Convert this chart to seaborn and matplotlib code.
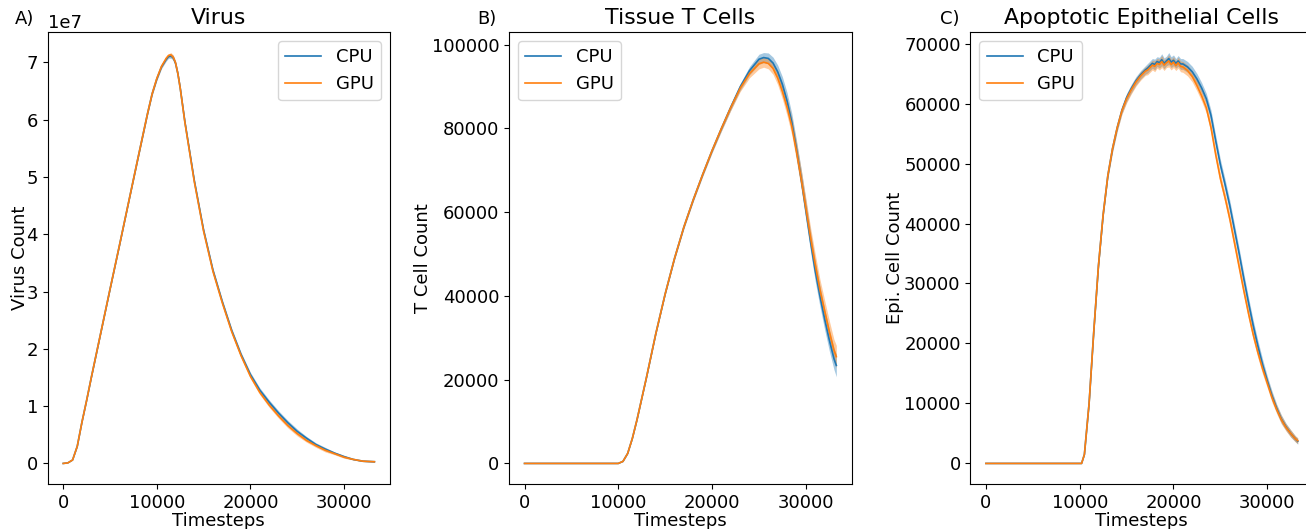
#!/usr/bin/env python
# CPU vs GPU comparison of the three model outputs

import matplotlib

matplotlib.use("Agg")
import matplotlib.pyplot as plt
import numpy as np
import pandas as pd
import seaborn as sns

# --- Virus (values in units of 1e7) ---
virus_t = [0, 500, 1000, 1500, 2000, 2500, 3000, 4000, 5000, 6000, 7000, 8000,
           9000, 9500, 10000, 10500, 11000, 11250, 11500, 11750, 12000, 12250,
           12500, 13000, 14000,
           15000, 16000, 17000, 18000, 19000, 20000, 21000, 22000, 23000, 24000,
           25000, 26000, 27000, 28000, 29000, 30000, 31000, 32000, 33250]
virus_gpu = [0, 0.01, 0.06, 0.3, 0.72, 1.1, 1.5, 2.27, 3.04, 3.8, 4.57, 5.34,
             6.1, 6.45, 6.72, 6.93, 7.07, 7.12, 7.13, 7.09, 6.99, 6.8,
             6.55, 5.95, 4.92,
             4.05, 3.35, 2.8, 2.3, 1.88, 1.52, 1.24, 1.02, 0.83, 0.66,
             0.52, 0.4, 0.31, 0.23, 0.17, 0.11, 0.07, 0.04, 0.03]
virus_cpu = [0, 0.01, 0.06, 0.3, 0.72, 1.1, 1.5, 2.27, 3.04, 3.8, 4.57, 5.34,
             6.1, 6.45, 6.71, 6.92, 7.05, 7.1, 7.11, 7.08, 6.98, 6.8,
             6.55, 5.96, 4.94,
             4.07, 3.37, 2.82, 2.32, 1.9, 1.55, 1.28, 1.07, 0.88, 0.71,
             0.56, 0.44, 0.33, 0.25, 0.18, 0.12, 0.07, 0.04, 0.03]
virus_band = [0, 0, 0, 0.01, 0.01, 0.01, 0.02, 0.02, 0.02, 0.02, 0.02, 0.03,
              0.03, 0.03, 0.03, 0.03, 0.03, 0.03, 0.04, 0.04, 0.04, 0.04,
              0.04, 0.04, 0.04,
              0.04, 0.04, 0.04, 0.04, 0.04, 0.04, 0.04, 0.04, 0.04, 0.04,
              0.04, 0.03, 0.03, 0.03, 0.02, 0.02, 0.01, 0.01, 0.01]

# --- Tissue T cells ---
tcell_t = [0, 5000, 10000, 10500, 11000, 11500, 12000, 12500, 13000, 14000,
           15000, 16000, 17000, 18000, 19000, 20000, 21000, 22000, 23000, 24000,
           25000, 25500, 26000, 26500, 27000, 27500, 28000, 28500, 29000, 29500,
           30000, 30500, 31000, 31500, 32000, 32500, 33000, 33250]
tcell_gpu = [0, 0, 0, 500, 2400, 6000, 10500, 15500, 20500, 31000,
             40500, 49000, 56500, 63000, 69000, 74700, 80000, 85000, 89600, 93100,
             95400, 95800, 95500, 94300, 92000, 88800, 85000, 80500, 74500, 68000,
             61000, 54000, 47500, 41500, 36500, 31500, 27000, 25500]
tcell_cpu = [0, 0, 0, 500, 2400, 6000, 10500, 15500, 20500, 31000,
             40500, 49000, 56500, 63000, 69000, 74700, 80000, 85100, 89900, 93800,
             96500, 96900, 96700, 95600, 93500, 90500, 86500, 81500, 75000, 68000,
             60500, 53000, 46000, 40000, 34500, 29500, 25000, 23400]
tcell_band = [0, 0, 0, 50, 100, 150, 200, 200, 250, 300,
              300, 350, 400, 400, 450, 500, 600, 700, 800, 1000,
              1200, 1200, 1300, 1400, 1600, 1800, 2000, 2100, 2200, 2300,
              2400, 2400, 2500, 2500, 2500, 2600, 2600, 2700]

# --- Apoptotic epithelial cells ---
epi_t = [0, 5000, 10000, 10200, 10500, 11000, 11500, 12000, 12500, 13000,
         13500, 14000, 14500, 15000, 15500, 16000, 16500, 17000, 17250, 17500,
         17750, 18000, 18250, 18500, 18750, 19000, 19250, 19500, 19750, 20000,
         20250, 20500, 20750, 21000, 21500, 22000, 22500, 23000,
         23500, 24000, 24500, 25000, 25500, 26000, 26500, 27000, 27500, 28000,
         28500, 29000, 29500, 30000, 30500, 31000, 31500, 32000, 32500, 33000,
         33250]
epi_gpu = [0, 0, 0, 0, 1500, 10000, 22000, 33000, 41500, 48000,
           52500, 56000, 58800, 60800, 62300, 63600, 64600, 65400, 65600, 66000,
           66400, 66200, 66700, 66500, 67000, 66400, 66800, 67100, 66500, 66900,
           66300, 66800, 66200, 66100, 65500, 64500, 63000, 61300,
           59300, 56000, 51500, 47500, 44300, 40800, 36800, 32800, 28800, 25000,
           21500, 18500, 15800, 13400, 11000, 9000, 7300, 6000, 5000, 4100,
           3800]
epi_cpu = [0, 0, 0, 0, 1500, 10000, 22000, 33000, 41500, 48000,
           52500, 56000, 58900, 61000, 62500, 63800, 64800, 65600, 65900, 66300,
           66700, 66500, 67000, 66800, 67300, 66700, 67100, 67500, 66900, 67200,
           66700, 67100, 66600, 66600, 66100, 65300, 64100, 62600,
           60800, 58000, 53800, 49800, 46500, 43000, 39000, 35000, 30800, 26800,
           23000, 19600, 16500, 13800, 11300, 9200, 7400, 6100, 5000, 4100,
           3700]
epi_band = [0, 0, 0, 0, 100, 300, 400, 500, 500, 500,
            600, 600, 600, 700, 700, 700, 700, 700, 800, 800,
            800, 900, 800, 900, 1000, 900, 800, 1000, 900, 900,
            800, 900, 900, 900, 900, 900, 900, 900,
            900, 900, 900, 900, 900, 900, 900, 900, 900, 900,
            900, 900, 900, 800, 800, 700, 700, 600, 600, 500,
            500]

VIRUS_SCALE = 1e7

FS = 12.96
TITLE_FS = 15.84


def draw_panel(ax, t, cpu, gpu, band, title, ylabel, legend_loc, labelpad):
    df = pd.DataFrame(
        {
            "Timesteps": list(t) * 2,
            "count": list(cpu) + list(gpu),
            "device": ["CPU"] * len(t) + ["GPU"] * len(t),
        }
    )
    colors = sns.color_palette()[:2]
    sns.lineplot(
        data=df,
        x="Timesteps",
        y="count",
        hue="device",
        palette=colors,
        linewidth=1.2,
        ax=ax,
    )
    for vals, c in zip([cpu, gpu], colors):
        vals = np.asarray(vals)
        b = np.asarray(band)
        ax.fill_between(t, vals - b, vals + b, color=c, alpha=0.4, linewidth=0)
    ax.set_title(title, fontsize=TITLE_FS)
    ax.set_xlabel("Timesteps", fontsize=FS, labelpad=0)
    ax.set_ylabel(ylabel, fontsize=FS, labelpad=labelpad)
    ax.tick_params(labelsize=FS)
    ax.yaxis.get_offset_text().set_fontsize(FS)
    ax.legend(loc=legend_loc, fontsize=FS)


def main():
    fig = plt.figure(figsize=(13.06, 5.29), dpi=100)
    bottom, height = 0.0851, 0.8544
    ax_a = fig.add_axes([0.0365, bottom, 0.2621, height])
    ax_b = fig.add_axes([0.3897, bottom, 0.2626, height])
    ax_c = fig.add_axes([0.7430, bottom, 0.2626, height])

    draw_panel(
        ax_a,
        virus_t,
        np.array(virus_cpu) * VIRUS_SCALE,
        np.array(virus_gpu) * VIRUS_SCALE,
        np.array(virus_band) * VIRUS_SCALE,
        "Virus",
        "Virus Count",
        "upper right",
        -1.5,
    )
    draw_panel(ax_b, tcell_t, tcell_cpu, tcell_gpu, tcell_band,
               "Tissue T Cells", "T Cell Count", "upper left", 0)
    draw_panel(ax_c, epi_t, epi_cpu, epi_gpu, epi_band,
               "Apoptotic Epithelial Cells", "Epi. Cell Count", "upper left", 0)

    # panel letters
    for x, letter in zip([0.019, 0.373, 0.727], ["A)", "B)", "C)"]):
        fig.text(x, 0.965, letter, fontsize=FS, ha="center", va="center")

    plt.savefig("out.png", dpi=100)
    plt.close()


if __name__ == "__main__":
    main()
